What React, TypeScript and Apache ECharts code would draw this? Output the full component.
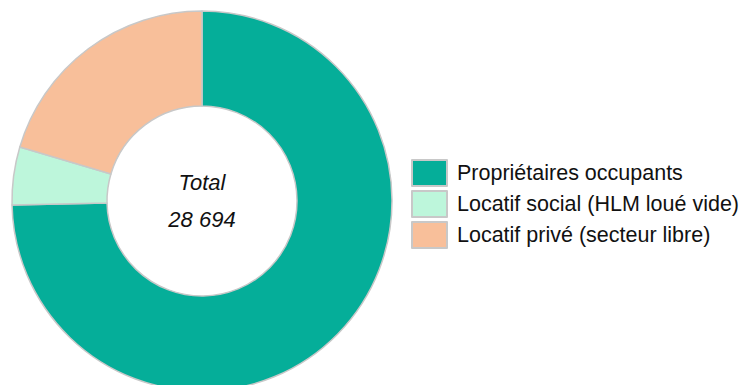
import React, { useEffect, useRef } from "react";
import * as echarts from "echarts";

const categories = [
  "Propriétaires occupants",
  "Locatif social (HLM loué vide)",
  "Locatif privé (secteur libre)",
];
const values = [21424, 1411, 5859];
const colors = ["#05ae99", "#bdf6db", "#f8bf9a"];
const totalLabel = "Total";
const totalValue = "28 694";

export default function App() {
  const ref = useRef<HTMLDivElement>(null);
  useEffect(() => {
    const chart = echarts.init(ref.current!, null, { renderer: "svg" });
    chart.setOption({
      animation: false,
      legend: {
        orient: "vertical",
        left: 406,
        top: 154,
        icon: "rect",
        itemWidth: 35,
        itemHeight: 26,
        itemGap: 3,
        textStyle: {
          fontFamily: "Liberation Sans, Arial, sans-serif",
          fontSize: 21.5,
          color: "#111",
          padding: [0, 0, 0, 5],
        },
        data: categories,
      },
      graphic: [
        {
          type: "text",
          x: 202,
          y: 182,
          style: {
            text: totalLabel,
            fontFamily: "Liberation Sans, Arial, sans-serif",
            fontStyle: "italic",
            fontSize: 22,
            fill: "#111",
            textAlign: "center",
            textVerticalAlign: "middle",
          },
        },
        {
          type: "text",
          x: 202,
          y: 219,
          style: {
            text: totalValue,
            fontFamily: "Liberation Sans, Arial, sans-serif",
            fontStyle: "italic",
            fontSize: 22,
            fill: "#111",
            textAlign: "center",
            textVerticalAlign: "middle",
          },
        },
      ],
      series: [
        {
          type: "pie",
          center: [202, 201],
          radius: [95, 190],
          startAngle: 90,
          clockwise: true,
          label: { show: false },
          labelLine: { show: false },
          emphasis: { disabled: true },
          itemStyle: { borderColor: "#c8c8c8", borderWidth: 1.5 },
          data: categories.map((name, i) => ({
            name,
            value: values[i],
            itemStyle: { color: colors[i] },
          })),
        },
      ],
    });
    return () => chart.dispose();
  }, []);
  return (
    <div
      ref={ref}
      style={{ position: "fixed", left: 0, top: 0, width: 751, height: 385, background: "#fff" }}
    />
  );
}
